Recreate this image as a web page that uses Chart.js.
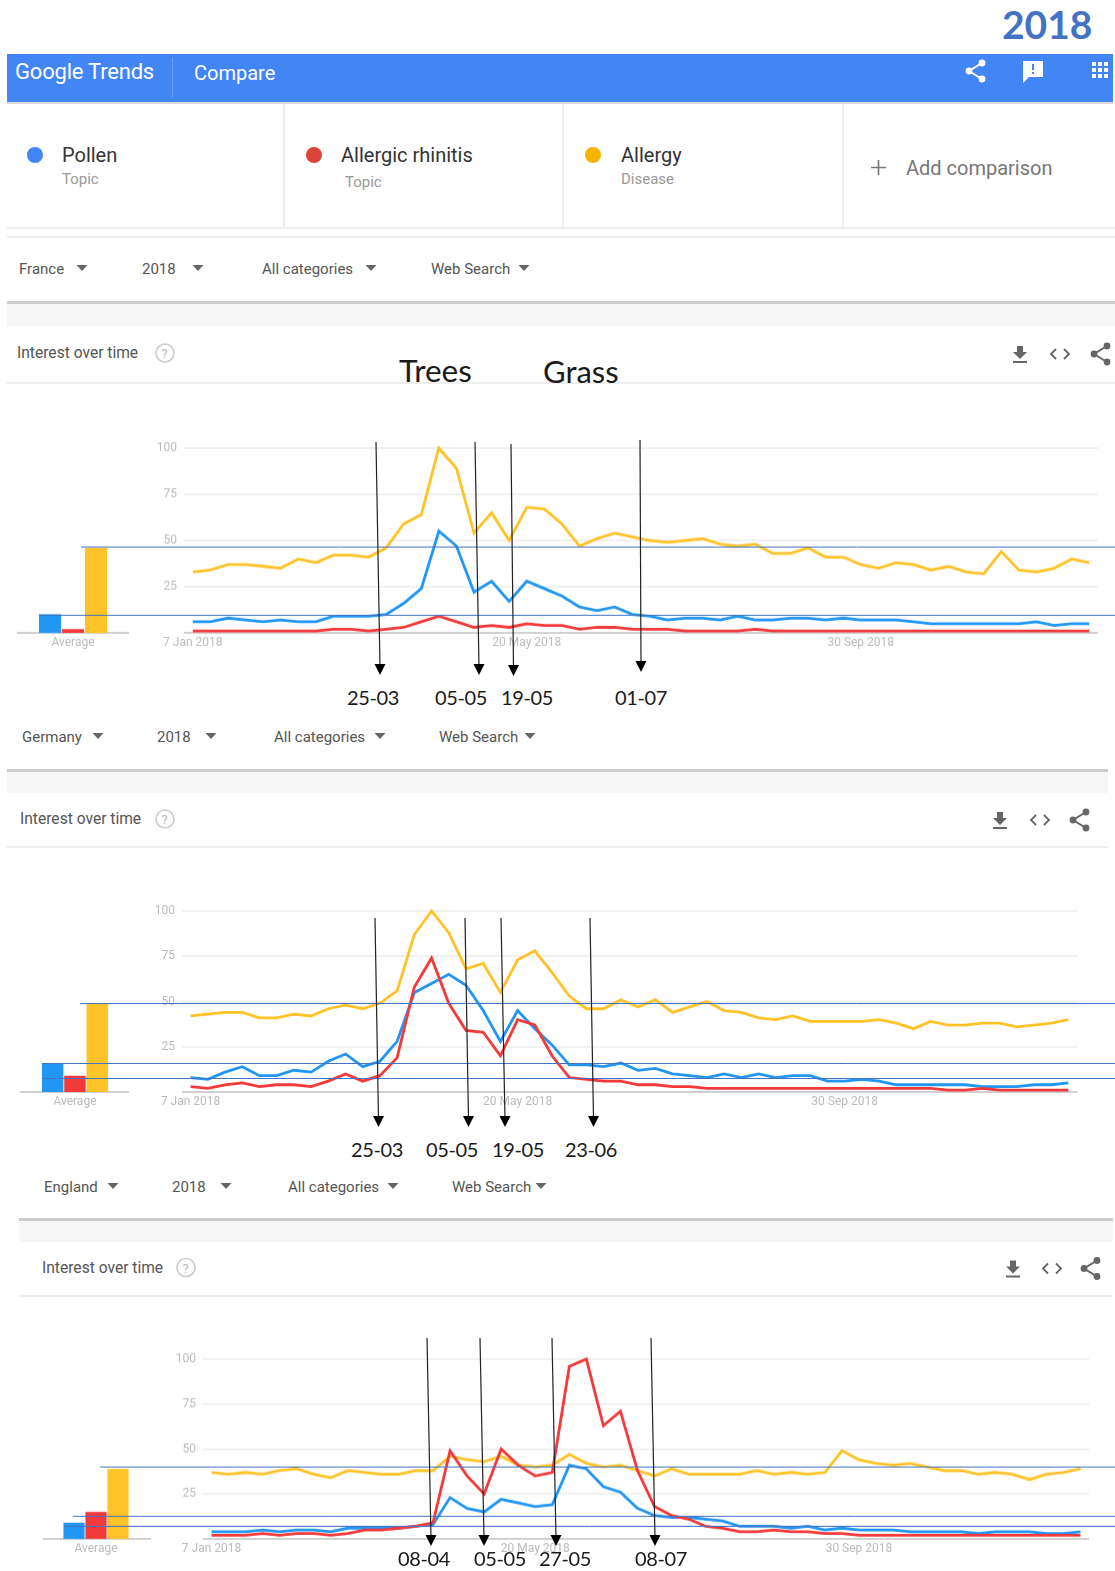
<!DOCTYPE html>
<html>
<head>
<meta charset="utf-8">
<title>Google Trends 2018</title>
<script src="https://cdn.jsdelivr.net/npm/chart.js@4"></script>
<style>
  html, body { margin: 0; padding: 0; background: #fff; }
  #page { position: relative; width: 1115px; height: 1571px; overflow: hidden; font-family: Roboto, sans-serif; }
  #page canvas { position: absolute; }
  .t { position: absolute; white-space: nowrap; transform: translateY(-50%); line-height: 1; }
  .box { position: absolute; }
  .note { font-family: Lato, sans-serif; color: #1a1a1a; }
  svg { position: absolute; left: 0; top: 0; }
</style>
</head>
<body>
<div id="page"></div>
<script>
// Weeks on the x axis
const weeks = ['7 Jan 2018','14 Jan','21 Jan','28 Jan','4 Feb','11 Feb','18 Feb','25 Feb','4 Mar','11 Mar','18 Mar','25 Mar','1 Apr','8 Apr','15 Apr','22 Apr','29 Apr','6 May','13 May','20 May 2018','27 May','3 Jun','10 Jun','17 Jun','24 Jun','1 Jul','8 Jul','15 Jul','22 Jul','29 Jul','5 Aug','12 Aug','19 Aug','26 Aug','2 Sep','9 Sep','16 Sep','23 Sep','30 Sep 2018','7 Oct','14 Oct','21 Oct','28 Oct','4 Nov','11 Nov','18 Nov','25 Nov','2 Dec','9 Dec','16 Dec','23 Dec','30 Dec'];
const xTickLabels = ['7 Jan 2018', '20 May 2018', '30 Sep 2018'];
const yTicks = [0, 25, 50, 75, 100];
const terms = ['Pollen', 'Allergic rhinitis', 'Allergy'];

// France
const francePollen = [6,6,8,7,6,7,6,6,9,9,9,10,16,24,55,47,22,28,17,28,24,20,14,12,14,10,9,7,8,8,7,9,7,7,8,8,7,8,7,7,7,6,5,5,5,5,5,5,6,4,5,5];
const franceRhinitis = [1,1,1,1,1,1,1,1,2,2,1,2,3,6,9,6,3,4,3,5,4,4,2,3,3,2,2,2,1,1,1,1,2,1,1,1,1,1,1,1,1,1,1,1,1,1,1,1,1,1,1,1];
const franceAllergy = [33,34,37,37,36,35,40,38,42,42,41,46,59,64,100,89,54,65,50,68,67,59,47,51,54,52,50,49,50,51,48,47,48,43,43,46,41,41,37,35,38,37,34,36,33,32,44,34,33,35,40,38];
const franceAverages = [10, 2, 46];
const franceRefLines = [47, 10];

// Germany
const germanyPollen = [8,7,11,14,9,9,12,11,17,21,14,17,28,55,60,65,59,45,28,45,35,26,15,15,14,16,12,13,10,9,8,10,8,10,8,9,9,6,6,7,6,4,4,4,4,4,3,3,3,4,4,5];
const germanyRhinitis = [3,2,4,5,3,4,4,3,6,10,6,9,19,58,74,49,34,33,20,40,37,20,8,7,6,6,4,4,3,3,2,2,2,2,2,2,2,2,2,2,2,2,2,2,1,1,2,1,1,1,1,1];
const germanyAllergy = [42,43,44,44,41,41,43,42,46,48,46,49,56,87,100,88,68,71,55,73,78,66,53,46,46,51,47,51,44,47,50,45,44,41,40,42,39,39,39,39,40,38,35,39,37,37,38,38,36,37,38,40];
const germanyAverages = [16, 9, 49];
const germanyRefLines = [49, 16, 8];

// England
const englandPollen = [4,4,4,5,4,5,5,4,6,6,6,6,7,8,23,17,15,22,20,18,19,41,39,29,26,17,13,12,12,11,10,7,7,7,6,7,5,6,5,5,5,4,4,4,4,3,4,4,4,3,3,4];
const englandRhinitis = [2,2,2,3,2,3,3,2,3,5,5,6,7,9,49,35,25,50,41,35,37,96,100,63,71,38,18,13,11,7,6,4,4,5,4,4,3,3,2,2,2,2,2,2,2,2,2,2,2,2,2,2];
const englandAllergy = [37,36,37,36,38,39,36,34,38,37,36,36,38,38,46,44,43,46,41,40,41,47,42,40,41,38,35,39,36,36,36,36,38,36,37,36,37,49,44,42,41,42,40,38,38,36,37,36,33,36,37,39];
const englandAverages = [9, 15, 39];
const englandRefLines = [40, 13, 7];

const BLUE = '#2196f3', RED = '#f4393a', YELLOW = '#ffc327', NOTE_BLUE = '#4472c4';
const page = document.getElementById('page');

function text(str, x, y, size, color, extra) {
    const el = document.createElement('div');
    el.className = 't' + (extra && extra.cls ? ' ' + extra.cls : '');
    el.textContent = str;
    el.style.left = x + 'px';
    el.style.top = y + 'px';
    el.style.fontSize = size + 'px';
    if (color) el.style.color = color;
    if (extra && extra.weight) el.style.fontWeight = extra.weight;
    if (extra && extra.spacing) el.style.letterSpacing = extra.spacing + 'px';
    page.appendChild(el);
}

// Small date label under an arrow
function dateNote(str, x, y) {
    text(str, x, y, 20, null, { cls: 'note', spacing: -0.4 });
}

function box(x, y, w, h, color) {
    const el = document.createElement('div');
    el.className = 'box';
    el.style.cssText = `left:${x}px;top:${y}px;width:${w}px;height:${h}px;background:${color}`;
    page.appendChild(el);
}

// Everything that is only decoration goes into one svg string
let overlay = '';
function shareIcon(x, y, c) {
    overlay += `<path d="M${x+7} ${y-8}L${x-6} ${y}L${x+7} ${y+8}" fill="none" stroke="${c}" stroke-width="2"/>` +
        `<circle cx="${x+7}" cy="${y-8}" r="3.4" fill="${c}"/><circle cx="${x-6}" cy="${y}" r="3.4" fill="${c}"/><circle cx="${x+7}" cy="${y+8}" r="3.4" fill="${c}"/>`;
}
function downloadIcon(x, y) {
    overlay += `<path d="M${x-3} ${y-8}h6v6h4l-7 7l-7-7h4z" fill="#666"/><rect x="${x-7}" y="${y+7}" width="14" height="2" fill="#666"/>`;
}
function embedIcon(x, y) {
    overlay += `<path d="M${x-4} ${y-5}L${x-9} ${y}L${x-4} ${y+5}M${x+4} ${y-5}L${x+9} ${y}L${x+4} ${y+5}" fill="none" stroke="#666" stroke-width="1.8"/>`;
}
function caret(x, y) {
    overlay += `<path d="M${x-5.5} ${y-3}h11l-5.5 6z" fill="#666"/>`;
}
function arrow(x1, y1, x2, y2) {
    overlay += `<line x1="${x1}" y1="${y1}" x2="${x2}" y2="${y2 - 8}" stroke="#222" stroke-width="1.2"/>` +
        `<path d="M${x2-5.5} ${y2-11}h11l-5.5 11z" fill="#000"/>`;
}

function filterRow(y, labels, xs, carets) {
    labels.forEach((l, i) => {
        text(l, xs[i], y, 15, '#555');
        caret(carets[i], y - 1);
    });
}

function interestRow(x, y, helpX, icons) {
    text('Interest over time', x, y, 15.6, '#555');
    overlay += `<circle cx="${helpX}" cy="${y-1}" r="9" fill="none" stroke="#ccc" stroke-width="1.6"/>`;
    text('?', helpX - 3.5, y - 1, 13, '#bbb');
    downloadIcon(icons[0], y);
    embedIcon(icons[1], y);
    shareIcon(icons[2], y, '#666');
}

// Plugin: average lines running across the page, taken from the y scale
const refLinesPlugin = {
    id: 'refLines',
    afterDatasetsDraw(chart, args, opts) {
        const ctx = chart.ctx;
        ctx.save();
        ctx.strokeStyle = NOTE_BLUE;
        ctx.lineWidth = 1;
        opts.values.forEach((v, i) => {
            const y = Math.round(chart.scales.y.getPixelForValue(v)) + 0.5;
            ctx.beginPath();
            ctx.moveTo(opts.starts[i], y);
            ctx.lineTo(chart.width, y);
            ctx.stroke();
        });
        ctx.restore();
    }
};

// Plugin: baseline of the small average chart, wider than its plot
const baselinePlugin = {
    id: 'baseline',
    beforeDatasetsDraw(chart) {
        const ctx = chart.ctx;
        ctx.save();
        ctx.fillStyle = '#d0d0d0';
        ctx.fillRect(0, chart.chartArea.bottom - 1, chart.width, 2);
        ctx.restore();
    }
};

function addCanvas(left, top, w, h) {
    const c = document.createElement('canvas');
    c.width = w;
    c.height = h;
    c.style.cssText = `left:${left}px;top:${top}px;width:${w}px;height:${h}px`;
    page.appendChild(c);
    return c;
}

function drawAverage(cfg, values) {
    const pad = cfg.barLeft - cfg.baseLeft;
    const padR = cfg.baseRight - cfg.barLeft - cfg.barStep * 3;
    const c = addCanvas(cfg.baseLeft, cfg.y100 - 20, cfg.baseRight - cfg.baseLeft, cfg.y0 - cfg.y100 + 50);
    new Chart(c, {
        type: 'bar',
        data: {
            labels: terms,
            datasets: [{ data: values, backgroundColor: [BLUE, RED, YELLOW], barPercentage: 0.96, categoryPercentage: 1 }]
        },
        options: {
            responsive: false,
            animation: false,
            layout: { padding: { left: pad, right: padR, top: 20, bottom: 0 } },
            plugins: { legend: { display: false }, tooltip: { enabled: false } },
            scales: {
                x: {
                    afterFit: s => { s.height = 30; },
                    grid: { display: false, drawTicks: false },
                    border: { display: false },
                    ticks: {
                        autoSkip: false, maxRotation: 0, padding: 3, color: '#bbb',
                        font: { family: 'Roboto', size: 12 },
                        callback: function(v, i) { return i === 1 ? 'Average' : ''; }
                    }
                },
                y: { display: false, min: 0, max: 100 }
            }
        },
        plugins: [baselinePlugin]
    });
}

function drawTrend(cfg, pollen, rhinitis, allergy, refValues) {
    const c = addCanvas(0, cfg.y100 - 20, 1115, cfg.y0 - cfg.y100 + 50);
    const line = (label, data, color) => ({
        label, data, borderColor: color, borderWidth: 2.8, pointRadius: 0, tension: 0, fill: false, clip: false
    });
    new Chart(c, {
        type: 'line',
        data: {
            labels: weeks,
            // first dataset is painted on top, red lies over blue and yellow
            datasets: [line('Allergic rhinitis', rhinitis, RED), line('Pollen', pollen, BLUE), line('Allergy', allergy, YELLOW)]
        },
        options: {
            responsive: false,
            animation: false,
            layout: { padding: { left: 0, right: 1115 - cfg.gridRight, top: 20, bottom: 0 } },
            plugins: {
                legend: { display: false },
                tooltip: { enabled: false },
                refLines: { values: refValues, starts: cfg.refStarts }
            },
            scales: {
                x: {
                    offset: true,
                    afterFit: s => { s.height = 30; },
                    grid: { display: false, drawTicks: false },
                    border: { display: false },
                    ticks: {
                        autoSkip: false, maxRotation: 0, padding: 3, color: '#bbb',
                        font: { family: 'Roboto', size: 12 },
                        callback: function(v) {
                            const l = this.getLabelForValue(v);
                            return xTickLabels.includes(l) ? l : '';
                        }
                    }
                },
                y: {
                    min: 0, max: 100,
                    afterFit: s => { s.width = cfg.gridLeft; },
                    afterBuildTicks: s => { s.ticks = yTicks.map(value => ({ value })); },
                    border: { display: false },
                    grid: {
                        drawTicks: false, lineWidth: 2,
                        color: ctx => ctx.tick.value === 0 ? '#d0d0d0' : '#f1f1f1'
                    },
                    ticks: {
                        padding: 7, color: '#bbb',
                        font: { family: 'Roboto', size: 12 },
                        callback: v => v === 0 ? '' : v
                    }
                }
            }
        },
        plugins: [refLinesPlugin]
    });
}

// Title and header
text('2018', 1002, 24, 39, NOTE_BLUE, { cls: 'note', weight: 700 });
box(7, 54, 1106, 48, '#4285f4');
box(7, 102, 1106, 2, '#d8d8d8');
box(172, 58, 1, 40, '#6a9df6');
text('Google Trends', 15, 72, 22, '#fff', { spacing: -0.2 });
text('Compare', 194, 73, 20, '#fff');
shareIcon(975, 71, '#fff');
overlay += '<path d="M1023 61h20v16h-14l-6 6z" fill="#fff"/><rect x="1032" y="64" width="2" height="6" fill="#4285f4"/><rect x="1032" y="72" width="2" height="2" fill="#4285f4"/>';
[62, 68, 74].forEach(y => [1092, 1098, 1104].forEach(x => {
    overlay += `<rect x="${x}" y="${y}" width="4" height="4" fill="#fff"/>`;
}));

// Search terms row
[283, 562, 842].forEach(x => box(x, 104, 2, 124, '#eee'));
box(7, 227, 1108, 2, '#eee');
box(7, 236, 1108, 2, '#eee');
overlay += '<circle cx="35" cy="155" r="8" fill="#4285f4"/><circle cx="314" cy="155" r="8" fill="#db4437"/><circle cx="593" cy="155" r="8" fill="#f4b400"/>';
text(terms[0], 62, 155, 20, '#333');
text('Topic', 62, 179, 15, '#999');
text(terms[1], 341, 155, 20, '#333');
text('Topic', 345, 182, 15, '#999');
text(terms[2], 621, 155, 20, '#333');
text('Disease', 621, 179, 15, '#999');
overlay += '<path d="M878.5 160v15M871 167.5h15" stroke="#777" stroke-width="1.6"/>';
text('Add comparison', 906, 168, 20, '#777');

// France section
filterRow(269, ['France', '2018', 'All categories', 'Web Search'], [19, 142, 262, 431], [82, 198, 371, 524]);
box(7, 301, 1108, 3, '#ccc');
box(7, 304, 1108, 22, '#f6f6f6');
interestRow(17, 354, 165, [1020, 1060, 1100]);
box(7, 382, 1108, 2, '#eee');
text('Trees', 399, 371, 31.5, null, { cls: 'note' });
text('Grass', 543, 371, 31, null, { cls: 'note' });

const franceCfg = { y100: 448, y0: 632.5, gridLeft: 184, gridRight: 1098, baseLeft: 17, baseRight: 129, barLeft: 38.5, barStep: 23, refStarts: [81, 39] };
drawAverage(franceCfg, franceAverages);
drawTrend(franceCfg, francePollen, franceRhinitis, franceAllergy, franceRefLines);
arrow(376, 442, 380, 675);
arrow(475, 442, 479, 675);
arrow(511, 444, 513.5, 676);
arrow(640, 440, 641, 672);
dateNote('25-03', 347, 697);
dateNote('05-05', 435, 697);
dateNote('19-05', 501, 697);
dateNote('01-07', 615, 697);

// Germany section
filterRow(737, ['Germany', '2018', 'All categories', 'Web Search'], [22, 157, 274, 439], [98, 211, 380, 530]);
box(7, 768.5, 1101, 3, '#ccc');
box(7, 771.5, 1101, 21.5, '#f6f6f6');
interestRow(20, 820, 165, [1000, 1040, 1079]);
box(7, 846, 1101, 2, '#eee');

const germanyCfg = { y100: 911, y0: 1092, gridLeft: 182, gridRight: 1077, baseLeft: 20, baseRight: 129, barLeft: 41.5, barStep: 22.3, refStarts: [80, 42, 42] };
drawAverage(germanyCfg, germanyAverages);
drawTrend(germanyCfg, germanyPollen, germanyRhinitis, germanyAllergy, germanyRefLines);
arrow(375, 918, 378.5, 1127);
arrow(465, 918, 468.5, 1127);
arrow(501, 918, 505, 1127);
arrow(590, 918, 593.5, 1127);
dateNote('25-03', 351, 1149);
dateNote('05-05', 426, 1149);
dateNote('19-05', 492, 1149);
dateNote('23-06', 565, 1149);

// England section
filterRow(1187, ['England', '2018', 'All categories', 'Web Search'], [44, 172, 288, 452], [113, 226, 393, 541]);
box(19, 1218, 1094, 3, '#ccc');
box(19, 1221, 1094, 21, '#f6f6f6');
interestRow(42, 1268.5, 186, [1013, 1052, 1090]);
box(19, 1295, 1094, 2, '#eee');

const englandCfg = { y100: 1359, y0: 1538.5, gridLeft: 203, gridRight: 1089, baseLeft: 43, baseRight: 151, barLeft: 63, barStep: 22, refStarts: [100, 73, 64] };
drawAverage(englandCfg, englandAverages);
drawTrend(englandCfg, englandPollen, englandRhinitis, englandAllergy, englandRefLines);
arrow(427, 1338, 431, 1546);
arrow(480, 1338, 484, 1546);
arrow(552, 1338, 556, 1546);
arrow(651, 1338, 655, 1546);
dateNote('08-04', 398, 1558);
dateNote('05-05', 474, 1558);
dateNote('27-05', 539, 1558);
dateNote('08-07', 635, 1558);

// Decoration layer last so it sits on top of the charts
const holder = document.createElement('div');
holder.innerHTML = `<svg width="1115" height="1571" viewBox="0 0 1115 1571">${overlay}</svg>`;
page.appendChild(holder);
</script>
</body>
</html>
